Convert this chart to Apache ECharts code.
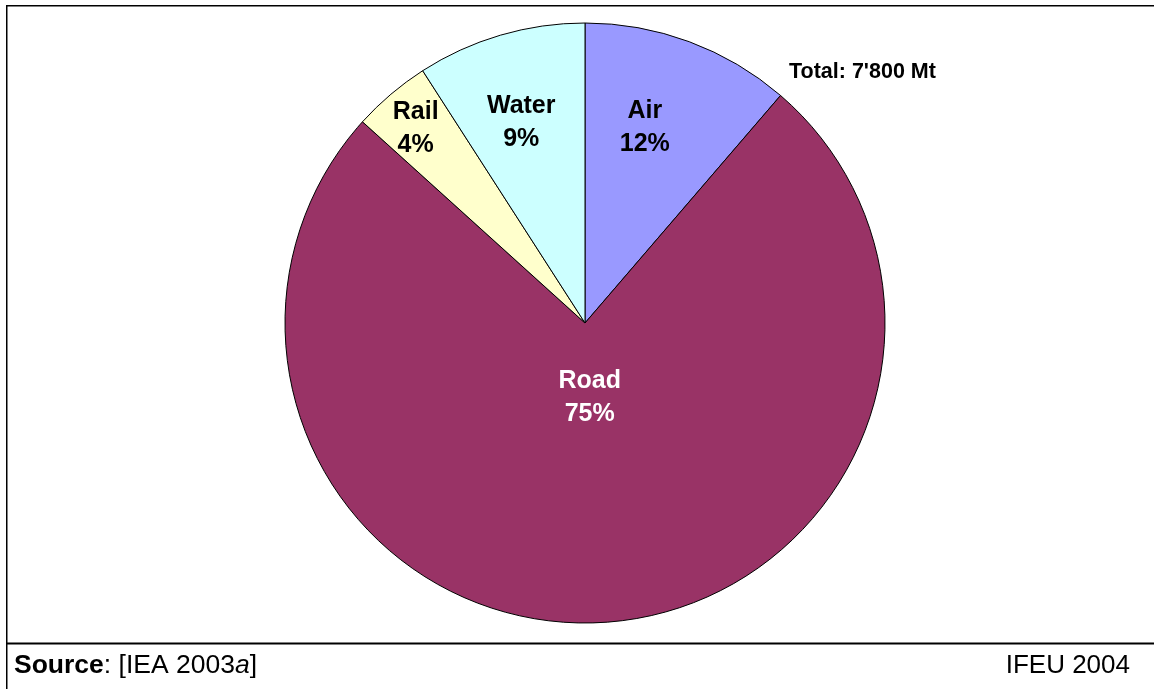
<!DOCTYPE html>
<html>
<head>
<meta charset="utf-8">
<title>Transport CO2 by mode</title>
<script src="https://cdn.jsdelivr.net/npm/echarts@6/dist/echarts.min.js"></script>
<style>
  html, body { margin: 0; padding: 0; background: #fff; }
  #main { width: 1154px; height: 689px; }
</style>
</head>
<body>
<div id="main"></div>
<script>
// data (shares in % of 7'800 Mt, taken from slice angles)
var categories = ['Air', 'Road', 'Rail', 'Water'];
var shares = [11.3, 75.4, 4.2, 9.1];
var shownPct = [12, 75, 4, 9];   // percentages as printed on the chart
var totalText = "Total: 7'800 Mt";

var sliceColors = ['#9999FF', '#993366', '#FFFFCC', '#CCFFFF'];
var labelColors = ['#000', '#fff', '#000', '#000'];
// label placement: fraction of radius and small turn (deg) off the slice middle
var labelFrac = [0.68, 0.25, 0.86, 0.70];
var labelTurn = [-3.3, 0, -0.7, -1.3];

var cx = 585, cy = 323, R = 300;
var FONT = '"Liberation Sans", Arial, sans-serif';

var sum = shares.reduce(function (a, b) { return a + b; }, 0);
function midAngle(i) {
    var before = 0;
    for (var k = 0; k < i; k++) before += shares[k];
    return (before + shares[i] / 2) / sum * Math.PI * 2;   // clockwise from 12 o'clock
}

var chart = echarts.init(document.getElementById('main'), null, { renderer: 'canvas' });

var option = {
    backgroundColor: '#fff',
    animation: false,
    series: [{
        type: 'pie',
        center: [cx, cy],
        radius: [0, R],
        startAngle: 90,
        clockwise: true,
        avoidLabelOverlap: false,
        data: categories.map(function (name, i) {
            return {
                name: name,
                value: shares[i],
                itemStyle: { color: sliceColors[i] },
                label: { color: labelColors[i] }
            };
        }),
        itemStyle: { borderColor: '#000', borderWidth: 1 },
        label: {
            show: true,
            position: 'inside',
            fontFamily: FONT,
            fontWeight: 'bold',
            fontSize: 25,
            lineHeight: 33,
            align: 'center',
            formatter: function (p) {
                return p.name + '\n' + shownPct[p.dataIndex] + '%';
            }
        },
        labelLine: { show: false },
        labelLayout: function (p) {
            var a = midAngle(p.dataIndex) + labelTurn[p.dataIndex] * Math.PI / 180;
            var f = labelFrac[p.dataIndex];
            return {
                x: cx + f * R * Math.sin(a),
                y: cy - f * R * Math.cos(a),
                align: 'center',
                verticalAlign: 'middle'
            };
        },
        emphasis: { disabled: true }
    }],
    graphic: [
        // frame: top, left, footer separator
        { type: 'line', shape: { x1: 6, y1: 5.75, x2: 1154, y2: 5.75 }, style: { stroke: '#000', lineWidth: 1.5 } },
        { type: 'line', shape: { x1: 6.75, y1: 5, x2: 6.75, y2: 689 }, style: { stroke: '#000', lineWidth: 1.5 } },
        { type: 'line', shape: { x1: 6, y1: 643.5, x2: 1154, y2: 643.5 }, style: { stroke: '#000', lineWidth: 2 } },
        {
            type: 'text', x: 789, y: 72,
            style: {
                text: totalText, fill: '#000',
                font: 'bold 21.5px ' + FONT,
                textVerticalAlign: 'middle'
            }
        },
        {
            type: 'text', x: 14, y: 666,
            style: {
                text: '{b|Source}{r|: [IEA 2003}{i|a}{r|]}',
                textVerticalAlign: 'middle',
                rich: {
                    b: { fontFamily: FONT, fontWeight: 'bold', fontSize: 26.5, fill: '#000' },
                    r: { fontFamily: FONT, fontSize: 26.5, fill: '#000' },
                    i: { fontFamily: FONT, fontStyle: 'italic', fontSize: 26.5, fill: '#000' }
                }
            }
        },
        {
            type: 'text', x: 1130, y: 666,
            style: {
                text: 'IFEU 2004', fill: '#000',
                font: '26px ' + FONT,
                textAlign: 'right',
                textVerticalAlign: 'middle'
            }
        }
    ]
};

chart.setOption(option);
</script>
</body>
</html>
